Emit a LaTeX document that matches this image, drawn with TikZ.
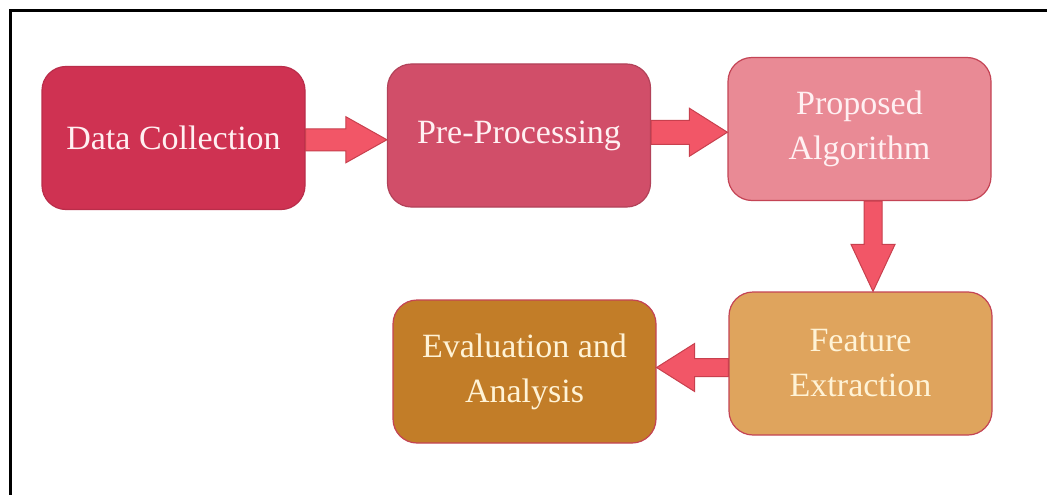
\documentclass[tikz,border=0pt]{standalone}
\usepackage{fontspec}
\setmainfont{Liberation Serif}
\usetikzlibrary{calc}
\definecolor{cA}{HTML}{CF3252}
\definecolor{cB}{HTML}{D14E69}
\definecolor{cC}{HTML}{E98A95}
\definecolor{cD}{HTML}{DFA45D}
\definecolor{cE}{HTML}{C27D28}
\definecolor{edgeR}{HTML}{C44455}
\definecolor{arrF}{HTML}{F25667}
\definecolor{arrD}{HTML}{C8404E}
\definecolor{cream}{HTML}{FFF3D6}
\definecolor{pinkw}{HTML}{FFF0F2}
\tikzset{
  stepbox/.style={draw=edgeR, line width=1.2pt, rounded corners=24pt,
    minimum width=263pt, minimum height=143pt, align=center,
    font=\fontsize{34}{45}\selectfont, inner sep=0pt},
  blk/.style={draw=arrD, line width=1pt, fill=arrF, line join=miter}
}
\begin{document}
\begin{tikzpicture}[x=1pt,y=-1pt]
\useasboundingbox (0,0) rectangle (1047,495);
\fill[white] (0,0) rectangle (1047,495);
\coordinate (bTR) at (1047,10.5);
\coordinate (bTL) at (10.5,10.5);
\coordinate (bBL) at (10.5,495);
\draw[line width=2.4pt, black] (bTR) -- (bTL) -- (bBL);

\node[stepbox, fill=cA, draw=cA!90!black, text=pinkw] (dc) at (173.5,138) {Data Collection};
\node[stepbox, fill=cB, draw=cB!85!black, text=pinkw] (pp) at (519,135.5) {Pre-Processing};
\node[stepbox, fill=cC, text=pinkw] (pa) at (859.5,129) {Proposed\\Algorithm};
\node[stepbox, fill=cD, text=cream] (fe) at (860.5,363.5) {Feature\\Extraction};
\node[stepbox, fill=cE, text=cream] (ea) at (524.5,371.5) {Evaluation and\\Analysis};

% arrow dc -> pp
\draw[blk] let \p1=(dc.east), \p2=(pp.west), \n1={0.5*\y1+0.5*\y2-3pt} in
  (\x1,\n1+11pt) -- (\x2-41pt,\n1+11pt) -- (\x2-41pt,\n1+23pt) -- (\x2,\n1)
  -- (\x2-41pt,\n1-23pt) -- (\x2-41pt,\n1-11pt) -- (\x1,\n1-11pt) -- cycle;
% arrow pp -> pa
\draw[blk] let \p1=(pp.east), \p2=(pa.west), \n1={0.5*\y1+0.5*\y2} in
  (\x1,\n1+12pt) -- (\x2-38pt,\n1+12pt) -- (\x2-38pt,\n1+24pt) -- (\x2,\n1)
  -- (\x2-38pt,\n1-24pt) -- (\x2-38pt,\n1-12pt) -- (\x1,\n1-12pt) -- cycle;
% arrow pa -> fe (down)
\draw[blk] let \p1=(pa.south), \p2=(fe.north), \n1={0.5*\x1+0.5*\x2+13pt} in
  (\n1-9pt,\y1) -- (\n1-9pt,\y2+47pt) -- (\n1-22pt,\y2+47pt) -- (\n1,\y2)
  -- (\n1+22pt,\y2+47pt) -- (\n1+9pt,\y2+47pt) -- (\n1+9pt,\y1) -- cycle;
% arrow fe -> ea (left)
\draw[blk] let \p1=(fe.west), \p2=(ea.east), \n1={0.5*\y1+0.5*\y2} in
  (\x1,\n1+9pt) -- (\x2+38pt,\n1+9pt) -- (\x2+38pt,\n1+24pt) -- (\x2,\n1)
  -- (\x2+38pt,\n1-24pt) -- (\x2+38pt,\n1-9pt) -- (\x1,\n1-9pt) -- cycle;
\end{tikzpicture}
\end{document}
